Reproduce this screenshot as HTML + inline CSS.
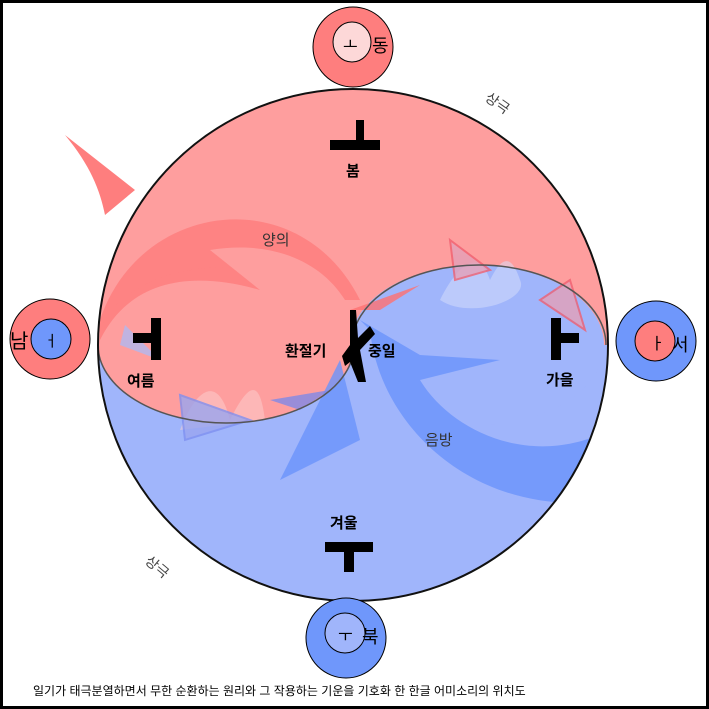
<!DOCTYPE html>
<html><head><meta charset="utf-8"><style>
html,body{margin:0;padding:0;background:#fff}
svg{display:block}
text{font-family:"Liberation Sans","Noto Sans CJK KR","NanumGothic",sans-serif}
</style></head><body>
<svg width="709" height="709" viewBox="0 0 709 709" xmlns="http://www.w3.org/2000/svg">
<rect x="1.5" y="1.5" width="706" height="706" fill="#fff" stroke="#000" stroke-width="3"/>
<defs><clipPath id="c"><ellipse cx="353" cy="345" rx="255" ry="256"/></clipPath></defs>
<g clip-path="url(#c)">
<rect x="90" y="80" width="530" height="530" fill="#a0b5fb"/>
<path d="M90 80 H620 V345 H90 Z" fill="#fe9e9e"/>
<ellipse cx="477" cy="345" rx="127" ry="80" fill="#a0b5fb"/>
<ellipse cx="226" cy="345" rx="128" ry="78" fill="#fe9e9e"/>
<path d="M100 320 C140 200 300 180 360 300 L345 300 C320 260 270 240 210 250 L260 290 C190 270 130 280 100 340 Z" fill="#fe7e7e" opacity="0.85"/>
<path d="M370 330 C380 430 480 520 610 500 L610 430 C530 470 450 430 420 380 L500 360 L420 355 L360 320 Z" fill="#6a94fb" opacity="0.8"/>
<path d="M340 360 L280 480 L360 440 Z" fill="#6a94fb" opacity="0.8"/>
<path d="M270 400 L330 390 L300 410 Z" fill="#7f88e6" opacity="0.8"/>
<path d="M440 300 C460 260 480 250 490 280 C500 260 510 250 520 280 C530 300 470 320 440 300 Z" fill="#d8e0fc" opacity="0.5"/>
<path d="M180 430 C200 380 220 380 230 420 C250 380 260 380 265 420 Z" fill="#fcd0d0" opacity="0.5"/>
<polygon points="450,240 490,270 455,280" fill="#e4a0b8" stroke="#f06070" stroke-width="2" opacity="0.8"/>
<polygon points="570,280 585,330 540,300" fill="#e4a0b8" stroke="#f06070" stroke-width="2" opacity="0.8"/>
<polygon points="180,395 250,420 185,440" fill="#9aa6f0" stroke="#7f90f0" stroke-width="2" opacity="0.8"/>
<polygon points="125,325 160,360 120,345" fill="#b0b8f0" opacity="0.8"/>
<polygon points="350,310 420,285 380,310" fill="#ff7070" opacity="0.8"/>
</g>
<path d="M65 135 L135 190 L105 215 C100 190 90 165 65 135 Z" fill="#fe7e7e"/>
<path d="M98 345 A128 78 0 0 0 354 345" fill="none" stroke="#555" stroke-width="1.5"/>
<path d="M352 345 A127 80 0 0 1 606 345" fill="none" stroke="#555" stroke-width="1.5"/>
<ellipse cx="353" cy="345" rx="255" ry="256" fill="none" stroke="#111" stroke-width="2"/>
<rect x="356" y="120" width="8" height="22" fill="#000"/><rect x="330" y="140" width="50" height="10" fill="#000"/>
<rect x="151" y="318" width="10" height="42" fill="#000"/><rect x="133" y="333" width="25" height="10" fill="#000"/>
<rect x="551" y="318" width="10" height="42" fill="#000"/><rect x="555" y="333" width="24" height="10" fill="#000"/>
<rect x="325" y="542" width="48" height="10" fill="#000"/><rect x="344" y="548" width="10" height="24" fill="#000"/>
<path d="M350 310 L356 310 L358 338 L370 326 L375 334 L360 350 L366 382 L358 382 L350 362 L345 366 L342 356 L350 345 Z" fill="#000"/>
<g font-size="15" fill="#000" font-weight="bold">
<text x="346" y="176">봄</text>
<text x="262" y="245" fill="#333" font-weight="normal">양의</text>
<text x="285" y="356">환절기</text>
<text x="368" y="356">중일</text>
<text x="127" y="386">여름</text>
<text x="546" y="385">가을</text>
<text x="425" y="445" fill="#333" font-weight="normal">음방</text>
<text x="330" y="528">겨울</text>
<text x="486" y="106" font-size="14" fill="#444" font-weight="normal" transform="rotate(35 495 100)">상극</text>
<text x="145" y="570" font-size="14" fill="#444" font-weight="normal" transform="rotate(40 155 565)">상극</text>
</g>
<ellipse cx="353" cy="47" rx="40" ry="40" fill="#fe7e7e" stroke="#000"/>
<ellipse cx="352" cy="42" rx="19" ry="20" fill="#fdd8d8" stroke="#000"/>
<text x="343" y="50" font-size="16">ㅗ</text><text x="372" y="52" font-size="18">동</text>
<ellipse cx="50" cy="339" rx="40" ry="40" fill="#fe7e7e" stroke="#000"/>
<ellipse cx="51" cy="339" rx="20" ry="20" fill="#6f97fb" stroke="#000"/>
<text x="10" y="348" font-size="20">남</text><text x="44" y="346" font-size="15">ㅓ</text>
<ellipse cx="656" cy="341" rx="40" ry="40" fill="#6f97fb" stroke="#000"/>
<ellipse cx="655" cy="341" rx="20" ry="20" fill="#fe7e7e" stroke="#000"/>
<text x="650" y="349" font-size="16">ㅏ</text><text x="672" y="351" font-size="18">서</text>
<ellipse cx="346" cy="638" rx="40" ry="40" fill="#6f97fb" stroke="#000"/>
<ellipse cx="345" cy="633" rx="20" ry="20" fill="#a0b5fb" stroke="#000"/>
<text x="338" y="641" font-size="16">ㅜ</text><text x="362" y="643" font-size="18">북</text>
<text x="33" y="695" font-size="12">일기가 태극분열하면서 무한 순환하는 원리와 그 작용하는  기운을 기호화 한 한글 어미소리의 위치도</text>
</svg>
</body></html>
